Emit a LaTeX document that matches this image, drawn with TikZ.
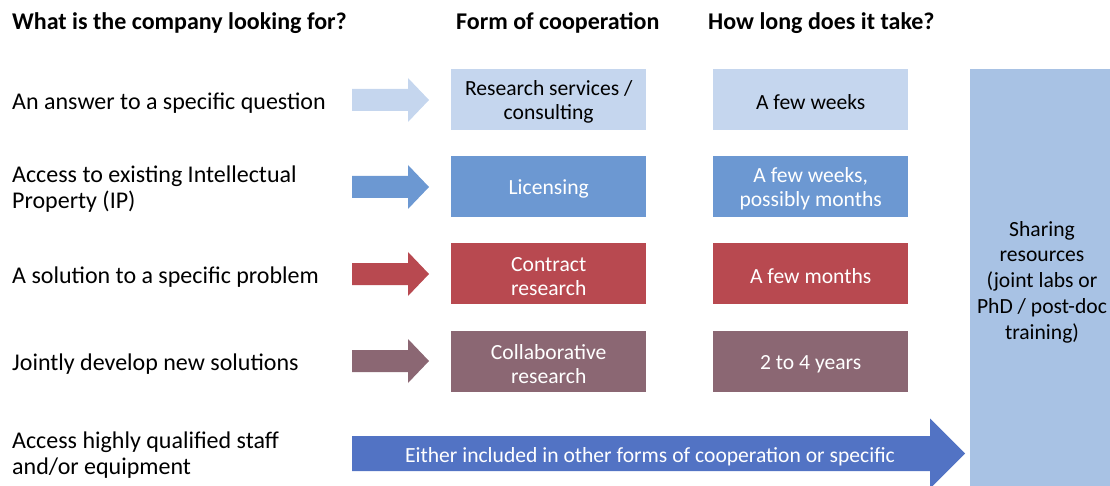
\documentclass[tikz,border=0pt]{standalone}
\usepackage{fontspec}
\setmainfont{Carlito}
\definecolor{paleblue}{RGB}{197,214,238}
\definecolor{midblue}{RGB}{108,152,210}
\definecolor{brickred}{RGB}{184,73,80}
\definecolor{mauve}{RGB}{139,103,115}
\definecolor{royalblue}{RGB}{82,115,196}
\definecolor{sideblue}{RGB}{168,194,228}
\tikzset{
  header/.style={anchor=base west, font=\bfseries\fontsize{24}{25}\selectfont, text=black, inner sep=0pt},
  need/.style={anchor=west, align=left, font=\fontsize{24}{25.5}\selectfont, text=black, inner sep=0pt},
  card/.style={minimum width=195pt, minimum height=61pt, inner sep=0pt, anchor=north west},
  cardtext/.style={align=center, inner sep=0pt, font=\fontsize{21.6}{24}\selectfont},
}
% block arrow: colour, left x, head start x, tip x, centre y, shaft half height, head half height
\newcommand{\blockarrow}[7]{%
  \fill[#1] (#2,#5-#6) -- (#3,#5-#6) -- (#3,#5-#7) -- (#4,#5) -- (#3,#5+#7) -- (#3,#5+#6) -- (#2,#5+#6) -- cycle;}
% coloured card with centred caption: name, top-left corner, fill, text colour, caption
\newcommand{\infocard}[5]{%
  \node[card, fill=#3] (#1) at (#2) {};
  \node[cardtext, text=#4] (#1-t) at ([yshift=-2.5pt]#1.center) {#5};}
\begin{document}
\begin{tikzpicture}[x=1pt,y=-1pt]
\useasboundingbox (0,0) rectangle (1110,486);

% column headers
\node[header] (h1) at (12,30) {What is the company looking for?};
\node[header] (h2) at (456,30) {Form of cooperation};
\node[header] (h3) at (708,30) {How long does it take?};

% what the company looks for
\node[need] (n1) at (12,103) {An answer to a specific question};
\node[need] (n2) at (12,189) {Access to existing Intellectual\\Property (IP)};
\node[need] (n3) at (12,277) {A solution to a specific problem};
\node[need] (n4) at (12,364) {Jointly develop new solutions};
\node[need] (n5) at (12,455) {Access highly qualified staff\\and/or equipment};

% forms of cooperation
\infocard{f1}{451,69}{paleblue}{black}{Research services /\\consulting}
\infocard{f2}{451,156}{midblue}{white}{Licensing}
\infocard{f3}{451,243}{brickred}{white}{Contract\\research}
\infocard{f4}{451,331}{mauve}{white}{Collaborative\\research}

% durations
\infocard{d1}{713,69}{paleblue}{black}{A few weeks}
\infocard{d2}{713,156}{midblue}{white}{A few weeks,\\possibly months}
\infocard{d3}{713,243}{brickred}{white}{A few months}
\infocard{d4}{713,331}{mauve}{white}{2 to 4 years}

% shared resources column
\node[fill=sideblue, minimum width=140pt, minimum height=417pt, inner sep=0pt, anchor=north west] (sr) at (970,69) {};
\node[align=center, font=\fontsize{21.6}{25.7}\selectfont, text=black, inner sep=0pt] (srt) at (1042,282)
  {Sharing\\resources\\(joint labs or\\PhD / post-doc\\training)};

% arrows into the cooperation forms
\blockarrow{paleblue}{352}{408}{429}{100}{11}{22}
\blockarrow{midblue}{352}{408}{429}{187}{11}{22}
\blockarrow{brickred}{352}{408}{429}{274}{11}{22}
\blockarrow{mauve}{352}{408}{429}{361}{11}{22}
\blockarrow{royalblue}{352}{930}{965}{453.5}{17.5}{35}
\node[font=\fontsize{21.6}{24}\selectfont, text=white, inner sep=0pt] (either) at (650,457)
  {Either included in other forms of cooperation or specific};
\end{tikzpicture}
\end{document}
